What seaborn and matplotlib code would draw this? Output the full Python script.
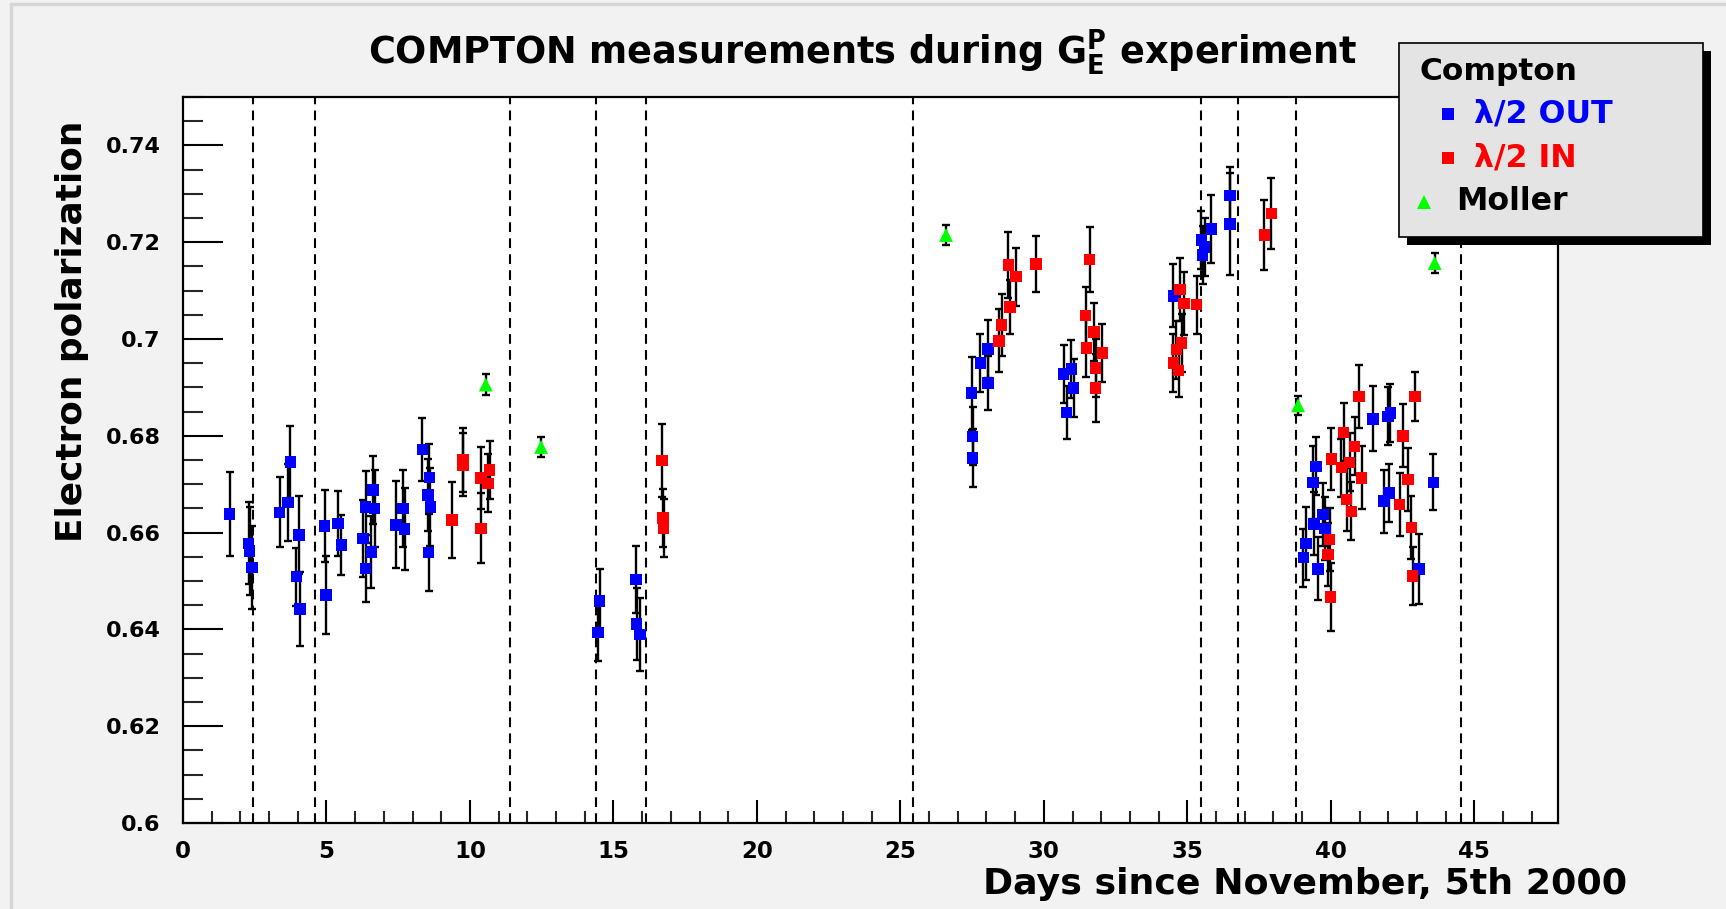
import matplotlib
matplotlib.use("Agg")
import numpy as np
import pandas as pd
import matplotlib.pyplot as plt
import matplotlib.ticker as mticker
from matplotlib.lines import Line2D
from matplotlib.patches import Rectangle
import seaborn as sns

# ---------------- data ----------------
out_day = [1.63, 2.29, 2.32, 2.40, 3.37, 3.66, 3.74, 3.95, 4.04, 4.07, 4.94, 4.99, 5.40, 5.52,
           6.27, 6.36, 6.36, 6.56, 6.62, 6.68, 7.43, 7.67, 7.72, 8.34, 8.54, 8.56, 8.59, 8.62,
           14.46, 14.52, 15.78, 15.81, 15.93, 27.48, 27.52, 27.52, 27.79, 28.06, 28.06,
           30.69, 30.79, 30.96, 31.04, 34.51, 35.49, 35.53, 35.60, 35.84, 36.48, 36.48,
           39.04, 39.13, 39.38, 39.41, 39.48, 39.56, 39.73, 39.79, 41.47, 41.86, 42.00,
           42.03, 42.08, 43.08, 43.57]
out_pol = [0.6638, 0.6578, 0.6562, 0.6528, 0.6642, 0.6662, 0.6746, 0.6509, 0.6595, 0.6442,
           0.6614, 0.6471, 0.6619, 0.6574, 0.6588, 0.6653, 0.6526, 0.6560, 0.6688, 0.6650,
           0.6616, 0.6650, 0.6607, 0.6772, 0.6678, 0.6559, 0.6714, 0.6653, 0.6394, 0.6459,
           0.6503, 0.6411, 0.6390, 0.6888, 0.6799, 0.6754, 0.6950, 0.6979, 0.6909, 0.6928,
           0.6848, 0.6938, 0.6899, 0.7089, 0.7205, 0.7174, 0.7190, 0.7227, 0.7296, 0.7238,
           0.6548, 0.6577, 0.6703, 0.6618, 0.6737, 0.6525, 0.6637, 0.6608, 0.6835, 0.6665,
           0.6840, 0.6682, 0.6847, 0.6525, 0.6704]
out_err = [0.0087, 0.0085, 0.0090, 0.0085, 0.0072, 0.0080, 0.0075, 0.0060, 0.0080, 0.0077,
           0.0075, 0.0080, 0.0067, 0.0062, 0.0080, 0.0075, 0.0070, 0.0075, 0.0070, 0.0080,
           0.0090, 0.0080, 0.0085, 0.0065, 0.0075, 0.0080, 0.0070, 0.0080, 0.0060, 0.0065,
           0.0070, 0.0075, 0.0075, 0.0075, 0.0060, 0.0060, 0.0060, 0.0060, 0.0055, 0.0060,
           0.0055, 0.0060, 0.0060, 0.0065, 0.0060, 0.0060, 0.0060, 0.0070, 0.0060, 0.0105,
           0.0060, 0.0075, 0.0075, 0.0065, 0.0060, 0.0065, 0.0065, 0.0065, 0.0067, 0.0065,
           0.0060, 0.0060, 0.0060, 0.0072, 0.0058]

in_day = [9.38, 9.76, 9.76, 10.39, 10.39, 10.63, 10.69, 16.69, 16.72, 16.75, 28.44, 28.53,
          28.76, 28.82, 29.03, 29.72, 31.46, 31.48, 31.60, 31.74, 31.80, 31.80, 32.04, 34.51,
          34.62, 34.70, 34.74, 34.80, 34.88, 35.32, 37.68, 37.93, 39.91, 39.96, 39.99, 40.02,
          40.37, 40.45, 40.55, 40.66, 40.72, 40.83, 40.98, 41.07, 42.40, 42.52, 42.69, 42.81,
          42.85, 42.93]
in_pol = [0.6626, 0.6750, 0.6740, 0.6713, 0.6609, 0.6702, 0.6729, 0.6749, 0.6630, 0.6609,
          0.6996, 0.7029, 0.7153, 0.7066, 0.7129, 0.7155, 0.7048, 0.6981, 0.7164, 0.7014,
          0.6940, 0.6899, 0.6971, 0.6950, 0.6978, 0.6935, 0.7102, 0.6992, 0.7073, 0.7071,
          0.7215, 0.7259, 0.6555, 0.6586, 0.6467, 0.6752, 0.6734, 0.6807, 0.6668, 0.6745,
          0.6644, 0.6778, 0.6881, 0.6713, 0.6658, 0.6800, 0.6710, 0.6610, 0.6510, 0.6881]
in_err = [0.0078, 0.0067, 0.0065, 0.0064, 0.0072, 0.0060, 0.0060, 0.0075, 0.0060, 0.0060,
          0.0065, 0.0065, 0.0068, 0.0055, 0.0060, 0.0058, 0.0060, 0.0060, 0.0067, 0.0060,
          0.0060, 0.0070, 0.0060, 0.0060, 0.0060, 0.0055, 0.0065, 0.0060, 0.0065, 0.0060,
          0.0072, 0.0074, 0.0065, 0.0065, 0.0071, 0.0065, 0.0060, 0.0060, 0.0065, 0.0060,
          0.0060, 0.0060, 0.0065, 0.0065, 0.0065, 0.0065, 0.0065, 0.0065, 0.0060, 0.0050]

moller_day = [10.55, 12.48, 26.59, 38.86, 43.62]
moller_pol = [0.6906, 0.6777, 0.7215, 0.6863, 0.7157]
moller_err = [0.0022, 0.0020, 0.0020, 0.0020, 0.0020]

break_days = [2.44, 4.59, 11.38, 14.40, 16.14, 25.44, 35.48, 36.75, 38.79, 44.52]

x_ticks = [0, 5, 10, 15, 20, 25, 30, 35, 40, 45]
x_tick_labels = ["0", "5", "10", "15", "20", "25", "30", "35", "40", "45"]
y_ticks = [0.60, 0.62, 0.64, 0.66, 0.68, 0.70, 0.72, 0.74]
y_tick_labels = ["0.6", "0.62", "0.64", "0.66", "0.68", "0.7", "0.72", "0.74"]

series_names = ["\u03bb/2 OUT", "\u03bb/2 IN", "Moller"]
series_colors = ["#0000ff", "#ff0000", "#00ff00"]
legend_title = "Compton"
title_text = "COMPTON measurements during $\\mathbf{G}_{\\mathbf{E}}^{\\mathbf{P}}$ experiment"
xlabel_text = "Days since November, 5th 2000"
ylabel_text = "Electron polarization"

# ---------------- build table ----------------
df = pd.concat([
    pd.DataFrame({"day": out_day, "pol": out_pol, "err": out_err, "series": series_names[0]}),
    pd.DataFrame({"day": in_day, "pol": in_pol, "err": in_err, "series": series_names[1]}),
    pd.DataFrame({"day": moller_day, "pol": moller_pol, "err": moller_err, "series": series_names[2]}),
], ignore_index=True)

sns.set_theme(style="white")
plt.rcParams["font.family"] = ["DejaVu Sans"]
plt.rcParams["font.weight"] = "bold"
plt.rcParams["mathtext.fontset"] = "dejavusans"
plt.rcParams["lines.scale_dashes"] = False

W, H = 1726, 909
BG = "#f2f2f2"
fig = plt.figure(figsize=(W / 100, H / 100), dpi=100, facecolor=BG)

ax_l, ax_r, ax_t, ax_b = 183, 1557.5, 97, 823
ax = fig.add_axes([ax_l / W, 1 - ax_b / H, (ax_r - ax_l) / W, (ax_b - ax_t) / H])
ax.set_facecolor("white")

# dashed separators
for d in break_days:
    ax.axvline(d, color="black", lw=1.5, linestyle=(0, (7, 4.5)), zorder=1)

# error bars
for name in series_names:
    sub = df[df["series"] == name]
    ax.errorbar(sub["day"], sub["pol"], yerr=sub["err"], fmt="none", ecolor="black",
                elinewidth=1.7, capsize=3, capthick=1.7, zorder=2)

palette = dict(zip(series_names, series_colors))
markers = {series_names[0]: "s", series_names[1]: "s", series_names[2]: "^"}
sizes = {series_names[0]: 68, series_names[1]: 68, series_names[2]: 100}
sns.scatterplot(data=df, x="day", y="pol", hue="series", style="series", size="series",
                palette=palette, markers=markers, sizes=sizes, linewidth=0,
                legend=False, ax=ax, zorder=3)

ax.set_xlim(0, 47.9)
ax.set_ylim(0.60, 0.75)
ax.set_xlabel("")
ax.set_ylabel("")

ax.xaxis.set_major_locator(mticker.FixedLocator(x_ticks))
ax.xaxis.set_major_formatter(mticker.FixedFormatter(x_tick_labels))
ax.xaxis.set_minor_locator(mticker.MultipleLocator(1))
ax.yaxis.set_major_locator(mticker.FixedLocator(y_ticks))
ax.yaxis.set_major_formatter(mticker.FixedFormatter(y_tick_labels))
ax.yaxis.set_minor_locator(mticker.MultipleLocator(0.005))

ax.tick_params(axis="y", which="major", direction="in", length=29, width=1.5, left=True,
               right=False, pad=16, labelsize=16, colors="black")
ax.tick_params(axis="y", which="minor", direction="in", length=14.5, width=1.5, left=True,
               right=False)
ax.tick_params(axis="x", which="major", direction="in", length=16.5, width=1.5, bottom=True,
               top=False, pad=12, labelsize=16.5, colors="black")
ax.tick_params(axis="x", which="minor", direction="in", length=8.3, width=1.5, bottom=True,
               top=False)
for lab in ax.get_xticklabels() + ax.get_yticklabels():
    lab.set_fontweight("bold")

for sp in ax.spines.values():
    sp.set_color("black")
    sp.set_linewidth(1.6)
    sp.set_visible(True)

# texts
fig.text(0.5, 1 - 53 / H, title_text, ha="center", va="center", fontsize=26.4,
         fontweight="bold", color="black")
fig.text(1627 / W, 1 - 884 / H, xlabel_text, ha="right", va="center", fontsize=26.2,
         fontweight="bold", color="black")
fig.text(72 / W, 1 - 121 / H, ylabel_text, ha="center", va="top", rotation=90,
         fontsize=25.8, fontweight="bold", color="black")

# canvas frame (light bevel)
fig.add_artist(Line2D([11 / W, 11 / W], [0, 1 - 4 / H], transform=fig.transFigure,
                      color="#d6d6d6", lw=2.5))
fig.add_artist(Line2D([11 / W, 1], [1 - 4 / H, 1 - 4 / H], transform=fig.transFigure,
                      color="#d6d6d6", lw=2.5))

# legend box (drawn in figure pixels)
lx0, lx1, ly0, ly1 = 1399, 1703, 43, 237
sh = 8
fig.add_artist(Rectangle(((lx0 + sh) / W, 1 - (ly1 + sh) / H), (lx1 - lx0) / W,
                         (ly1 - ly0) / H, transform=fig.transFigure, fc="black", ec="none",
                         zorder=10))
fig.add_artist(Rectangle((lx0 / W, 1 - ly1 / H), (lx1 - lx0) / W, (ly1 - ly0) / H,
                         transform=fig.transFigure, fc="#e4e4e4", ec="black", lw=1.2,
                         zorder=11))
fig.text(1419 / W, 1 - 72 / H, legend_title, ha="left", va="center", fontsize=22.5,
         fontweight="bold", color="black", zorder=12)
rows_y = [114, 158, 202]
mk_x = [1448, 1448, 1424]
tx_x = [1474, 1474, 1456]
txt_col = ["#0000ff", "#ff0000", "black"]
for name, col, mk, ry, mx, tx, tc in zip(series_names, series_colors,
                                         ["s", "s", "^"], rows_y, mk_x, tx_x, txt_col):
    fig.add_artist(Line2D([mx / W], [1 - ry / H], transform=fig.transFigure, marker=mk,
                          markersize=9 if mk == "s" else 10.5, color=col, linestyle="none",
                          markeredgewidth=0, zorder=12))
    fig.text(tx / W, 1 - ry / H, name, ha="left", va="center", fontsize=22.8,
             fontweight="bold", color=tc, zorder=12)

fig.savefig("out.png", dpi=100, facecolor=BG)
